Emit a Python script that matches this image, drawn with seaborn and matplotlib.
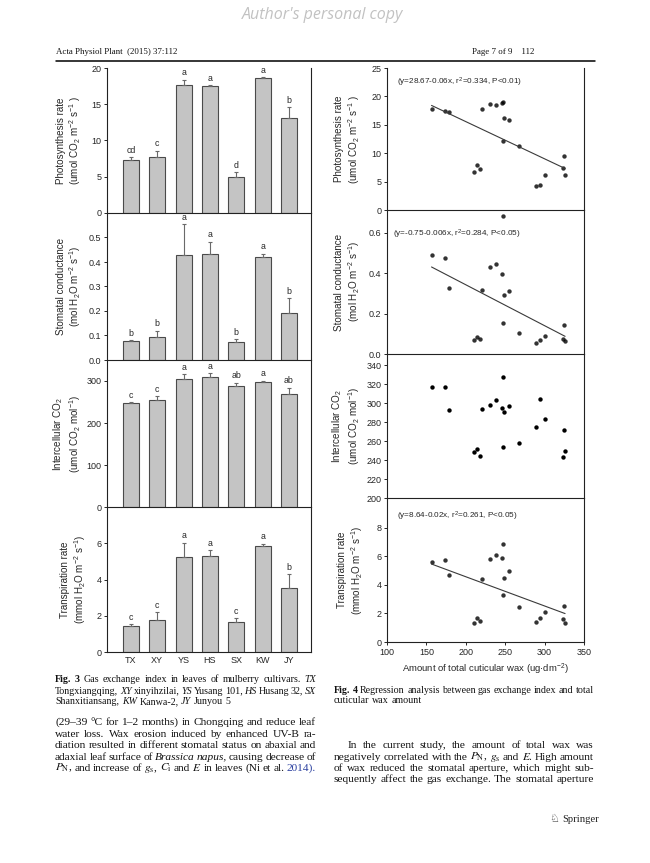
import numpy as np
import matplotlib
matplotlib.use("Agg")
import matplotlib.pyplot as plt
import seaborn as sns
from matplotlib.ticker import FormatStrFormatter

# ---------------- data ----------------
cultivars = ["TX", "XY", "YS", "HS", "SX", "KW", "JY"]

pn_mean = [7.3, 7.7, 17.6, 17.5, 5.0, 18.6, 13.05]
pn_err = [0.4, 0.9, 0.8, 0.15, 0.65, 0.15, 1.55]
pn_letters = ["cd", "c", "a", "a", "d", "a", "b"]

gs_mean = [0.077, 0.094, 0.428, 0.431, 0.073, 0.420, 0.190]
gs_err = [0.004, 0.026, 0.126, 0.051, 0.011, 0.014, 0.063]
gs_letters = ["b", "b", "a", "a", "b", "a", "b"]

ci_mean = [248, 254, 304, 310, 287, 298.5, 269.5]
ci_err = [2, 10, 12, 8, 9, 2.5, 14.5]
ci_letters = ["c", "c", "a", "a", "ab", "a", "ab"]

e_mean = [1.44, 1.79, 5.22, 5.30, 1.66, 5.87, 3.51]
e_err = [0.09, 0.39, 0.82, 0.31, 0.19, 0.09, 0.77]
e_letters = ["c", "c", "a", "a", "c", "a", "b"]

wax = [156.5, 173.5, 179, 210.5, 214.5, 218.5, 221, 230.5, 238, 245.5, 247,
       247.8, 249, 255, 267, 289.5, 294.5, 300, 323.3, 324.5, 326]
pn_pts = [17.76, 17.5, 17.2, 6.76, 7.94, 7.3, 17.7, 18.65, 18.5, 18.9, 18.95,
          12.06, 16.2, 15.9, 11.2, 4.3, 4.47, 6.18, 7.41, 9.47, 6.18]
gs_pts = [0.49, 0.475, 0.328, 0.07, 0.086, 0.073, 0.315, 0.43, 0.444, 0.396, 0.683,
          0.156, 0.295, 0.313, 0.103, 0.056, 0.071, 0.09, 0.076, 0.144, 0.063]
ci_pts = [317.3, 317.3, 292.9, 248.9, 251.4, 244.3, 293.9, 298.2, 303.5, 295.0, 327.6,
          254.2, 291.1, 297.5, 258.1, 274.8, 304.2, 283.0, 243.6, 271.6, 249.3]
e_pts = [5.62, 5.72, 4.71, 1.36, 1.67, 1.44, 4.42, 5.84, 6.09, 5.86, 6.89,
         3.27, 4.47, 4.96, 2.42, 1.39, 1.69, 2.07, 1.62, 2.56, 1.32]

eq_texts = ["(y=28.67-0.06x, r$^2$=0.334, P<0.01)",
            "(y=-0.75-0.006x, r$^2$=0.284, P<0.05)",
            None,
            "(y=8.64-0.02x, r$^2$=0.261, P<0.05)"]

# ---------------- style ----------------
sns.set_style("ticks")
plt.rcParams["font.family"] = ["Liberation Sans", "DejaVu Sans"]
plt.rcParams["mathtext.fontset"] = "custom"
plt.rcParams["mathtext.rm"] = "Liberation Sans"
plt.rcParams["mathtext.it"] = "Liberation Sans:italic"
plt.rcParams["mathtext.bf"] = "Liberation Sans:bold"
plt.rcParams["axes.linewidth"] = 0.8
plt.rcParams["axes.edgecolor"] = "#222222"

W, H = 650, 863
fig = plt.figure(figsize=(W / 100, H / 100), dpi=100)
fig.patch.set_facecolor("white")


def px_axes(x0, y0, x1, y1):
    return fig.add_axes([x0 / W, 1 - y1 / H, (x1 - x0) / W, (y1 - y0) / H])


TICK_FS = 6.5
LAB_FS = 7.1

# ---------------- left: bar charts ----------------
L_X0, L_X1 = 107, 311
L_rows = [(68, 213), (213, 360), (360, 507), (507, 652)]
bar_sets = [
    (pn_mean, pn_err, pn_letters, (0, 20), [0, 5, 10, 15, 20], "%d",
     "Photosynthesis rate\n(umol CO$_2$ m$^{-2}$ s$^{-1}$ )", 83.3),
    (gs_mean, gs_err, gs_letters, (0, 0.6), [0, 0.1, 0.2, 0.3, 0.4, 0.5], "%.1f",
     "Stomatal conductance\n(mol H$_2$O m$^{-2}$ s$^{-1}$)", 83.3),
    (ci_mean, ci_err, ci_letters, (0, 350), [0, 100, 200, 300], "%d",
     "Intercellular CO$_2$\n(umol CO$_2$ mol$^{-1}$)", 83.0),
    (e_mean, e_err, e_letters, (0, 8), [0, 2, 4, 6], "%d",
     "Transpiration rate\n(mmol H$_2$O m$^{-2}$ s$^{-1}$)", 88.0),
]

for i, (row, (means, errs, letters, ylim, yticks, fmt, ylab, lab_x)) in enumerate(zip(L_rows, bar_sets)):
    ax = px_axes(L_X0, row[0], L_X1, row[1])
    ax.set_facecolor("none")
    sns.barplot(x=cultivars, y=means, color="#c4c4c4", saturation=1, width=0.61,
                edgecolor="#4a4a4a", linewidth=0.8, errorbar=None, ax=ax)
    xs = np.arange(len(cultivars))
    ax.errorbar(xs, means, yerr=[np.zeros(len(errs)), errs], fmt="none",
                ecolor="#6a6a6a", elinewidth=0.8, capsize=1.6, capthick=0.8)
    for xv, m, e, lt in zip(xs, means, errs, letters):
        ax.annotate(lt, (xv, m + e), xytext=(0, 1.8), textcoords="offset points",
                    ha="center", va="bottom", fontsize=6.3)
    ax.set_xlim(-0.91, 6.84)
    ax.set_ylim(*ylim)
    ax.set_yticks(yticks)
    ax.yaxis.set_major_formatter(FormatStrFormatter(fmt))
    ax.tick_params(axis="y", direction="out", length=2.5, width=0.7, pad=1.5, labelsize=TICK_FS)
    ax.tick_params(axis="x", length=0, pad=3, labelsize=TICK_FS)
    if i < 3:
        ax.set_xticklabels([])
    ax.spines["top"].set_visible(False)
    ax.set_ylabel(ylab, fontsize=LAB_FS, linespacing=1.15)
    ax.yaxis.set_label_coords((lab_x - L_X0) / (L_X1 - L_X0), 0.5)
    ax.set_xlabel("")

# ---------------- right: scatter / regression ----------------
R_X0, R_X1 = 387, 584
R_rows = [(68, 210), (210, 354), (354, 498), (498, 642)]
sc_sets = [
    (pn_pts, (0, 25), [0, 5, 10, 15, 20, 25], "%d",
     "Photosynthesis rate\n(umol CO$_2$ m$^{-2}$ s$^{-1}$ )", 362, (397, 82)),
    (gs_pts, (0, 0.714), [0, 0.2, 0.4, 0.6], "%.1f",
     "Stomatal conductance\n(mol H$_2$O m$^{-2}$ s$^{-1}$)", 362, (393, 234)),
    (ci_pts, (200, 352), list(range(200, 341, 20)), "%d",
     "Intercellular CO$_2$\n(umol CO$_2$ mol$^{-1}$)", 362, None),
    (e_pts, (0, 10.1), [0, 2, 4, 6, 8], "%d",
     "Transpiration rate\n(mmol H$_2$O m$^{-2}$ s$^{-1}$)", 365, (397, 516)),
]

for i, (row, (pts, ylim, yticks, fmt, ylab, lab_x, eqpos)) in enumerate(zip(R_rows, sc_sets)):
    ax = px_axes(R_X0, row[0], R_X1, row[1])
    ax.set_facecolor("none")
    if eq_texts[i] is not None:
        sns.regplot(x=wax, y=pts, ci=None, ax=ax, truncate=True,
                    scatter_kws=dict(s=10, color="black", linewidths=0),
                    line_kws=dict(color="#3a3a3a", lw=0.8))
        ax.text((eqpos[0] - R_X0) / (R_X1 - R_X0), (row[1] - eqpos[1]) / (row[1] - row[0]),
                eq_texts[i], transform=ax.transAxes, ha="left", va="center", fontsize=5.9)
    else:
        sns.scatterplot(x=wax, y=pts, s=10, color="black", linewidth=0, ax=ax)
    ax.set_xlim(100, 350)
    ax.set_ylim(*ylim)
    ax.set_yticks(yticks)
    ax.yaxis.set_major_formatter(FormatStrFormatter(fmt))
    ax.tick_params(axis="y", direction="out", length=2.5, width=0.7, pad=1.5, labelsize=TICK_FS)
    ax.set_xticks(list(range(100, 351, 50)))
    if i < 3:
        ax.tick_params(axis="x", length=0, labelbottom=False)
        ax.set_xlabel("")
    else:
        ax.tick_params(axis="x", direction="out", length=2.5, width=0.7, pad=2, labelsize=TICK_FS)
        ax.set_xlabel("Amount of total cuticular wax (ug\u00b7dm$^{-2}$)", fontsize=6.8, labelpad=3)
    ax.spines["top"].set_visible(False)
    ax.set_ylabel(ylab, fontsize=LAB_FS, linespacing=1.15)
    ax.yaxis.set_label_coords((lab_x - R_X0) / (R_X1 - R_X0), 0.5)

# ---------------- page text ----------------
SERIF = "Liberation Serif"
renderer = fig.canvas.get_renderer()
SPACE_EM = 0.27


def fig_text(x, y, s, **kw):
    return fig.text(x / W, 1 - y / H, s, **kw)


def make_words(words, y_base, size):
    objs = []
    for w in words:
        if isinstance(w, tuple):
            s, kw = w
        else:
            s, kw = w, {}
        kw = dict(kw)
        kw.setdefault("color", "#111111")
        if "$" in s:
            kw.setdefault("math_fontfamily", "stix")
        t = fig_text(0, y_base, s, fontsize=size, family=SERIF, ha="left",
                     va="baseline", **kw)
        objs.append(t)
    widths = [t.get_window_extent(renderer).width for t in objs]
    return objs, widths


def fit_size(lines, s0=8.0):
    """font size at which the justified lines would set with normal spacing"""
    sizes = []
    for words, x0, x1 in lines:
        objs, widths = make_words(words, 0, s0)
        for t in objs:
            t.remove()
        n = len(words)
        sizes.append((x1 - x0) / (sum(widths) / s0 + (n - 1) * SPACE_EM * 100 / 72))
    return float(np.mean(sizes))


def draw_line(words, x0, x1, y_base, size, justify=True):
    objs, widths = make_words(words, y_base, size)
    n = len(objs)
    if justify and n > 1:
        gap = (x1 - x0 - sum(widths)) / (n - 1)
    else:
        gap = size * 100 / 72 * SPACE_EM
    x = x0
    for t, wd in zip(objs, widths):
        t.set_x(x / W)
        x += wd + gap


B = {"weight": "bold"}
I = {"style": "italic"}
BLUE = {"color": "#2a3f9f"}

# header
fig_text(323, 15, "Author's personal copy", fontsize=11.5, family="Open Sans",
         color="#c2c2c2", ha="center", va="center", style="italic")
fig_text(56, 54, "Acta Physiol Plant  (2015) 37:112", fontsize=6.4, family=SERIF,
         ha="left", va="baseline", color="#111111")
fig_text(534, 54, "Page 7 of 9    112", fontsize=6.4, family=SERIF,
         ha="right", va="baseline", color="#111111")
fig.add_artist(plt.Line2D([56 / W, 595 / W], [1 - 61 / H, 1 - 61 / H],
                          color="black", lw=1.1, transform=fig.transFigure))

LC0, LC1 = 55, 316
RC0, RC1 = 334, 594

cap3 = [
    [("Fig.", B), ("3", B), "Gas", "exchange", "index", "in", "leaves", "of",
     "mulberry", "cultivars.", ("TX", I)],
    ["Tongxiangqing,", ("XY", I), "xinyihzilai,", ("YS", I), "Yusang", "101,",
     ("HS", I), "Husang", "32,", ("SX", I)],
    ["Shanxitiansang,", ("KW", I), "Kanwa-2,", ("JY", I), "Junyou", "5"],
]
cap4 = [
    [("Fig.", B), ("4", B), "Regression", "analysis", "between", "gas", "exchange",
     "index", "and", "total"],
    ["cuticular", "wax", "amount"],
]
left_lines = [
    ["(29\u201339", "\u00b0C", "for", "1\u20132", "months)", "in", "Chongqing", "and", "reduce", "leaf"],
    ["water", "loss.", "Wax", "erosion", "induced", "by", "enhanced", "UV-B", "ra-"],
    ["diation", "resulted", "in", "different", "stomatal", "status", "on", "abaxial", "and"],
    ["adaxial", "leaf", "surface", "of", ("Brassica", I), ("napus,", I), "causing", "decrease", "of"],
    [r"$\mathit{P}_{\mathrm{N}}$,", "and", "increase", "of", r"$\mathit{g}_{\mathrm{s}}$,",
     r"$\mathit{C}_{\mathrm{i}}$", "and", r"$\mathit{E}$", "in", "leaves", "(Ni", "et", "al.",
     ("2014).", BLUE)],
]
right_lines = [
    ["In", "the", "current", "study,", "the", "amount", "of", "total", "wax", "was"],
    ["negatively", "correlated", "with", "the", r"$\mathit{P}_{\mathrm{N}}$,",
     r"$\mathit{g}_{\mathrm{s}}$", "and", r"$\mathit{E}$.", "High", "amount"],
    ["of", "wax", "reduced", "the", "stomatal", "aperture,", "which", "might", "sub-"],
    ["sequently", "affect", "the", "gas", "exchange.", "The", "stomatal", "aperture"],
]
INDENT = 14

CS = fit_size([(cap3[0], LC0, LC1), (cap3[1], LC0, LC1), (cap4[0], RC0, RC1)])
BS = fit_size([(ln, LC0, LC1) for ln in left_lines] +
              [(ln, RC0 + (INDENT if k == 0 else 0), RC1) for k, ln in enumerate(right_lines)])

# captions
for k, (ln, yb) in enumerate(zip(cap3, [682, 693.5, 704.5])):
    draw_line(ln, LC0, LC1, yb, CS, justify=(k < 2))
for k, (ln, yb) in enumerate(zip(cap4, [693, 703])):
    draw_line(ln, RC0, RC1, yb, CS, justify=(k < 1))

# body text
left_base = [725, 736.5, 748, 759.5, 770.5]
for ln, yb in zip(left_lines, left_base):
    draw_line(ln, LC0, LC1, yb, BS)
right_base = [748, 759.5, 770.5, 782]
for k, (ln, yb) in enumerate(zip(right_lines, right_base)):
    draw_line(ln, RC0 + (INDENT if k == 0 else 0), RC1, yb, BS)

# Springer logo
fig_text(559, 822, "\u2658", fontsize=8, family="DejaVu Sans", ha="right",
         va="baseline", color="#222222")
fig_text(562, 822, "Springer", fontsize=7.6, family=SERIF, ha="left",
         va="baseline", color="#222222")

fig.savefig("out.png", dpi=100, facecolor="white")
